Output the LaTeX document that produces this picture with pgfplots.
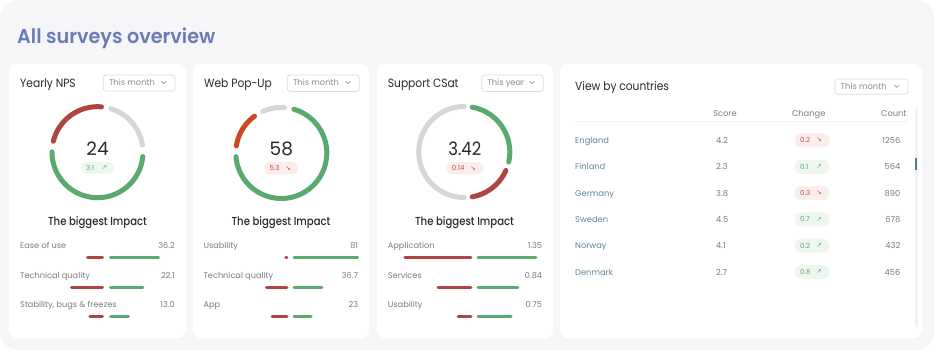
\documentclass[border=0pt]{standalone}
\usepackage{pgfplots}
\pgfplotsset{compat=1.18}
\usepackage{fontspec}
\setmainfont{Poppins}
\newfontfamily\sym{DejaVu Sans}
\newfontfamily\nar[FakeStretch=0.89]{Poppins}
\newfontfamily\titlefont[FakeStretch=0.96]{Poppins SemiBold}
\newfontfamily\medfont[FakeStretch=0.87]{Poppins Medium}
\definecolor{bgpanel}{HTML}{F6F6F8}
\definecolor{titleblue}{HTML}{6A7CB6}
\definecolor{dark}{HTML}{2A2A2A}
\definecolor{lbl}{HTML}{7C7C7C}
\definecolor{lblg}{HTML}{8E8E8E}
\definecolor{gr}{HTML}{5AA96E}
\definecolor{rd}{HTML}{AE4540}
\definecolor{arcgray}{HTML}{D6D6D6}
\definecolor{org}{HTML}{C84A1E}
\definecolor{country}{HTML}{5F8799}
\definecolor{pillred}{HTML}{FBEDEC}
\definecolor{pillgreen}{HTML}{EDF6EF}
\definecolor{txtred}{HTML}{C0504D}
\definecolor{txtgreen}{HTML}{5DA872}
\definecolor{boxline}{HTML}{DEDEE2}
\definecolor{scroll}{HTML}{4F7A8A}
\newcommand\fs[1]{\fontsize{#1}{#1}\selectfont}
% donut segment: cx cy start end radius colour
\newcommand\seg[6]{\addplot[draw=#6, line width=5pt, line cap=round, domain=#3:#4, samples=60, no marks] ({#1+#5*cos(x)},{#2-#5*sin(x)});}
% dropdown: x1 y1 x2 y2 text baseline
\newcommand\dd[6]{%
\draw[boxline, fill=white, rounded corners=3pt, line width=0.7pt] (#1,#2) rectangle (#3,#4);
\node[anchor=base west, inner sep=0, font=\fs{8.3}, text=lblg] at (#1+5.5,#6) {#5};
\draw[lblg, line width=0.6pt, line cap=round, line join=round] (#3-13.5,#6-4.6) -- (#3-11.25,#6-2.4) -- (#3-9,#6-4.6);}
% row: xleft xright baseline label value
\newcommand\row[5]{%
\node[anchor=base west,inner sep=0,font=\fs{8.2},text=lbl] at (#1,#3) {#4};
\node[anchor=base east,inner sep=0,font=\fs{8.2},text=lbl] at (#2,#3) {#5};}
% table row: baseline country score change count fill textcolor arrow
\newcommand\trow[8]{%
\node[anchor=base west,inner sep=0,font=\fs{8.3},text=country] at (575,#1) {#2};
\node[anchor=base west,inner sep=0,font=\fs{8.3},text=lbl] at (716,#1) {#3};
\fill[#6, rounded corners=6pt] (795,#1-10) rectangle (829,#1+4);
\node[anchor=base west,inner sep=0,font=\fs{7},text=#7] at (800,#1-0.7) {#4};
\node[inner sep=0,font=\fs{6.5}\sym,text=#7] at (819,#1-3.3) {#8};
\node[anchor=base east,inner sep=0,font=\fs{8.3},text=lbl] at (900.5,#1) {#5};}
\begin{document}
\begin{tikzpicture}
\begin{axis}[width=934pt,height=350pt,scale only axis,xmin=0,xmax=934,ymin=0,ymax=350,
  y dir=reverse,axis lines=none,ticks=none,clip=false]
% background and cards
\fill[white] (0,0) rectangle (934,350);
\fill[bgpanel, rounded corners=18pt] (0,0) rectangle (934,350);
\fill[white, rounded corners=8pt] (9,64) rectangle (186,338);
\fill[white, rounded corners=8pt] (193,64) rectangle (369,338);
\fill[white, rounded corners=8pt] (377,64) rectangle (553,338);
\fill[white, rounded corners=8pt] (560,64) rectangle (922,338);
% title
\node[anchor=base west, inner sep=0, font=\fs{20}\titlefont, text=titleblue] at (17,44) {All surveys overview};
% card titles and dropdowns
\node[anchor=base west, inner sep=0, font=\fs{12}\nar, text=dark] at (20,88) {Yearly NPS};
\node[anchor=base west, inner sep=0, font=\fs{12}\nar, text=dark] at (204,88) {Web Pop-Up};
\node[anchor=base west, inner sep=0, font=\fs{12}\nar, text=dark] at (387.7,88) {Support CSat};
\node[anchor=base west, inner sep=0, font=\fs{12}\nar, text=dark] at (575,90.7) {View by countries};
\dd{103.3}{75}{175}{91}{This month}{86}
\dd{287.3}{75}{359.3}{91.5}{This month}{86}
\dd{481.7}{75}{543.3}{91.5}{This year}{86}
\dd{835}{79}{908}{94.3}{This month}{89.8}
% donut 1: Yearly NPS
\seg{97.5}{152.2}{85}{166}{45.5}{rd}
\seg{97.5}{152.2}{9}{73}{45.5}{arcgray}
\seg{97.5}{152.2}{179.5}{354.5}{45.5}{gr}
% donut 2: Web Pop-Up
\seg{281.3}{153}{126}{171}{45.5}{org}
\seg{281.3}{153}{86}{114}{45.5}{arcgray}
\seg{281.3}{153}{184.6}{434}{45.5}{gr}
% donut 3: Support CSat
\seg{464.3}{152}{-12.6}{80}{45.5}{gr}
\seg{464.3}{152}{-80}{-24}{45.5}{rd}
\seg{464.3}{152}{90}{270}{45.5}{arcgray}
% centre values
\node[anchor=base, inner sep=0, font=\fs{18.5}, text=dark] at (97.5,155.7) {24};
\node[anchor=base, inner sep=0, font=\fs{18.5}, text=dark] at (281.3,155.7) {58};
\node[anchor=base, inner sep=0, font=\fs{18.5}\nar, text=dark] at (464.8,155.7) {3.42};
\fill[pillgreen, rounded corners=5.5pt] (81,162) rectangle (114,173.5);
\node[anchor=base west, inner sep=0, font=\fs{7}, text=txtgreen] at (86,170.3) {3.1};
\node[inner sep=0, font=\fs{6.5}\sym, text=txtgreen] at (104.5,167.7) {↗};
\fill[pillred, rounded corners=5.5pt] (264,162) rectangle (298,174.5);
\node[anchor=base west, inner sep=0, font=\fs{7}, text=txtred] at (269.3,171) {5.3};
\node[inner sep=0, font=\fs{6.5}\sym, text=txtred] at (288.2,168.2) {↘};
\fill[pillred, rounded corners=5.5pt] (446.7,162) rectangle (483.3,174.5);
\node[anchor=base west, inner sep=0, font=\fs{7}, text=txtred] at (451.7,171) {0.14};
\node[inner sep=0, font=\fs{6.5}\sym, text=txtred] at (473.2,168.2) {↘};
% subtitles
\node[anchor=base, inner sep=0, font=\fs{11.6}\medfont, text=dark] at (97.5,225) {The biggest Impact};
\node[anchor=base, inner sep=0, font=\fs{11.6}\medfont, text=dark] at (281,225) {The biggest Impact};
\node[anchor=base, inner sep=0, font=\fs{11.6}\medfont, text=dark] at (464.5,225) {The biggest Impact};
% rows card 1
\row{20}{175}{248.3}{Ease of use}{36.2}
\row{20}{175}{278.3}{Technical quality}{22.1}
\row{20}{175}{307.7}{Stability, bugs \& freezes}{13.0}
\addplot[rd, line width=3pt, line cap=round] coordinates {(87.5,257.3) (102.5,257.3)};
\addplot[gr, line width=3pt, line cap=round] coordinates {(110.5,257.3) (158.5,257.3)};
\addplot[rd, line width=3pt, line cap=round] coordinates {(71.5,287.3) (102.5,287.3)};
\addplot[gr, line width=3pt, line cap=round] coordinates {(110.5,287.3) (142.8,287.3)};
\addplot[rd, line width=3pt, line cap=round] coordinates {(89.8,316.7) (102.5,316.7)};
\addplot[gr, line width=3pt, line cap=round] coordinates {(110.5,316.7) (128.5,316.7)};
% rows card 2
\row{203.3}{358.3}{248.3}{Usability}{81}
\row{203.3}{358.3}{278.3}{Technical quality}{36.7}
\row{203.3}{358.3}{307.7}{App}{23}
\addplot[rd, line width=3pt, line cap=round] coordinates {(285.8,257.3) (286.8,257.3)};
\addplot[gr, line width=3pt, line cap=round] coordinates {(294.2,257.3) (357.5,257.3)};
\addplot[rd, line width=3pt, line cap=round] coordinates {(266.5,287.3) (286.8,287.3)};
\addplot[gr, line width=3pt, line cap=round] coordinates {(294.2,287.3) (321.8,287.3)};
\addplot[rd, line width=3pt, line cap=round] coordinates {(272.2,316.7) (286.8,316.7)};
\addplot[gr, line width=3pt, line cap=round] coordinates {(294.2,316.7) (311.2,316.7)};
% rows card 3
\row{387.7}{542.3}{248.3}{Application}{1.35}
\row{387.7}{542.3}{278.3}{Services}{0.84}
\row{387.7}{542.3}{307.7}{Usability}{0.75}
\addplot[rd, line width=3pt, line cap=round] coordinates {(404.8,257.3) (470.8,257.3)};
\addplot[gr, line width=3pt, line cap=round] coordinates {(478.2,257.3) (535.8,257.3)};
\addplot[rd, line width=3pt, line cap=round] coordinates {(438.2,287.3) (470.8,287.3)};
\addplot[gr, line width=3pt, line cap=round] coordinates {(478.2,287.3) (517.8,287.3)};
\addplot[rd, line width=3pt, line cap=round] coordinates {(458.2,316.7) (470.8,316.7)};
\addplot[gr, line width=3pt, line cap=round] coordinates {(478.2,316.7) (511.2,316.7)};
% country table
\node[anchor=base, inner sep=0, font=\fs{8.3}, text=lbl] at (725,116.7) {Score};
\node[anchor=base, inner sep=0, font=\fs{8.3}, text=lbl] at (808.7,116.7) {Change};
\node[anchor=base east, inner sep=0, font=\fs{8.3}, text=lbl] at (906.7,116.7) {Count};
\draw[color=black!6, line width=0.8pt] (575,121.7) -- (907,121.7);
\draw[color=black!5, line width=3pt] (916,108) -- (916,327);
\draw[scroll, line width=2.2pt] (916,157.7) -- (916,170);
\trow{143.3}{England}{4.2}{0.2}{1256}{pillred}{txtred}{↘}
\trow{169.8}{Finland}{2.3}{0.1}{564}{pillgreen}{txtgreen}{↗}
\trow{196.1}{Germany}{3.8}{0.3}{890}{pillred}{txtred}{↘}
\trow{222.4}{Sweden}{4.5}{0.7}{678}{pillgreen}{txtgreen}{↗}
\trow{248.7}{Norway}{4.1}{0.2}{432}{pillgreen}{txtgreen}{↗}
\trow{275.0}{Denmark}{2.7}{0.8}{456}{pillgreen}{txtgreen}{↗}
\end{axis}
\end{tikzpicture}
\end{document}
